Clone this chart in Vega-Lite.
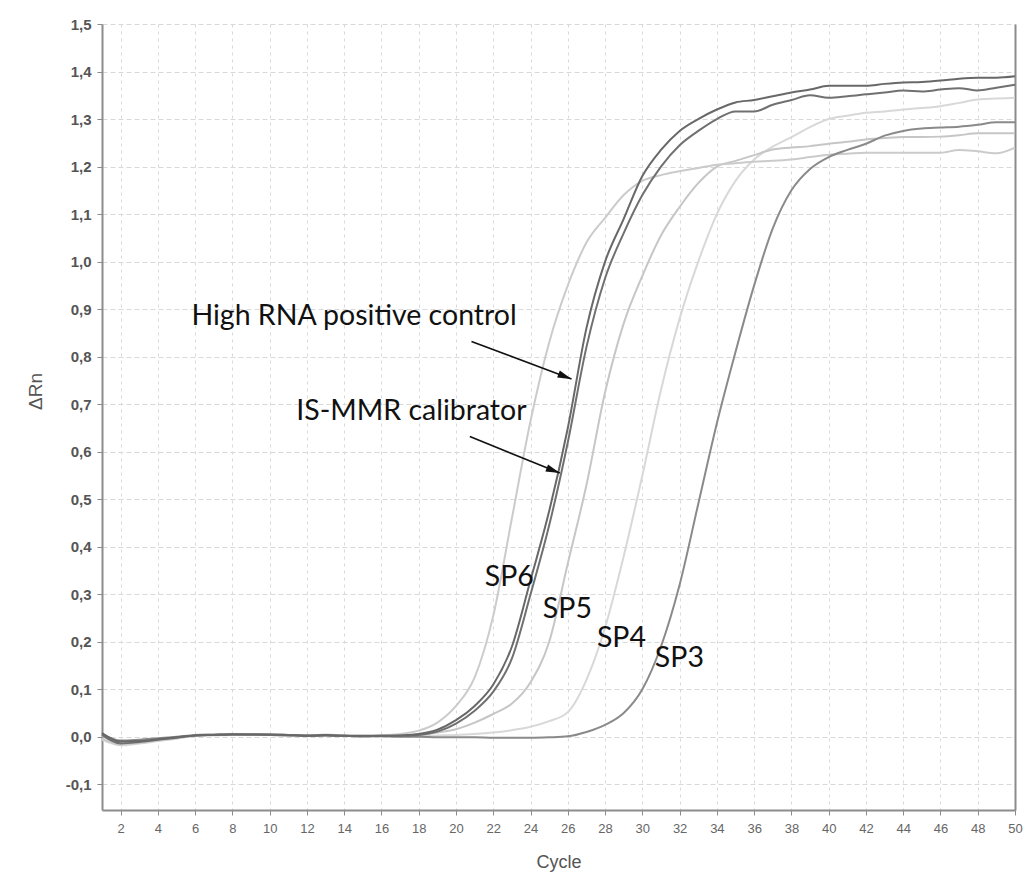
{
  "$schema": "https://vega.github.io/schema/vega-lite/v6.json",
  "width": 913,
  "height": 786,
  "autosize": {"type": "none"},
  "padding": {"left": 102, "top": 24, "right": 8, "bottom": 73},
  "background": "white",
  "config": {
    "view": {"stroke": null}, "font": "Liberation Sans",
    "axis": {"labelOverlap": false},
    "axisX": {
      "values": [2,4,6,8,10,12,14,16,18,20,22,24,26,28,30,32,34,36,38,40,42,44,46,48,50],
      "labelOverlap": false, "labelFlush": false,
      "titleFontSize": 18, "titleFontWeight": "normal", "titleColor": "#555555",
      "titleY": 52, "titleBaseline": "middle",
      "labelFontSize": 13, "labelColor": "#666666", "labelPadding": 7,
      "domainColor": "#8c8c8c", "domainWidth": 2, "tickColor": "#8c8c8c", "tickSize": 5,
      "grid": true, "gridColor": "#d9d9d9", "gridDash": [3, 4], "gridWidth": 1
    }
  },
  "datasets": {
    "curves": [
      {"cycle":1,"HRPC":0.008,"ISMMR":0.004,"SP6":-0.004,"SP5":0.002,"SP4":-0.006,"SP3":0.006},
      {"cycle":2,"HRPC":-0.010,"ISMMR":-0.014,"SP6":-0.016,"SP5":-0.012,"SP4":-0.018,"SP3":-0.008},
      {"cycle":3,"HRPC":-0.009,"ISMMR":-0.011,"SP6":-0.013,"SP5":-0.010,"SP4":-0.014,"SP3":-0.006},
      {"cycle":4,"HRPC":-0.005,"ISMMR":-0.006,"SP6":-0.008,"SP5":-0.006,"SP4":-0.009,"SP3":-0.003},
      {"cycle":5,"HRPC":-0.001,"ISMMR":-0.002,"SP6":-0.003,"SP5":-0.002,"SP4":-0.004,"SP3":0.000},
      {"cycle":6,"HRPC":0.003,"ISMMR":0.003,"SP6":0.002,"SP5":0.003,"SP4":0.002,"SP3":0.004},
      {"cycle":7,"HRPC":0.004,"ISMMR":0.004,"SP6":0.004,"SP5":0.004,"SP4":0.003,"SP3":0.005},
      {"cycle":8,"HRPC":0.005,"ISMMR":0.005,"SP6":0.005,"SP5":0.005,"SP4":0.004,"SP3":0.006},
      {"cycle":9,"HRPC":0.005,"ISMMR":0.005,"SP6":0.005,"SP5":0.005,"SP4":0.004,"SP3":0.005},
      {"cycle":10,"HRPC":0.005,"ISMMR":0.004,"SP6":0.005,"SP5":0.004,"SP4":0.004,"SP3":0.005},
      {"cycle":11,"HRPC":0.004,"ISMMR":0.003,"SP6":0.004,"SP5":0.004,"SP4":0.003,"SP3":0.004},
      {"cycle":12,"HRPC":0.002,"ISMMR":0.002,"SP6":0.003,"SP5":0.002,"SP4":0.002,"SP3":0.003},
      {"cycle":13,"HRPC":0.004,"ISMMR":0.003,"SP6":0.005,"SP5":0.003,"SP4":0.003,"SP3":0.004},
      {"cycle":14,"HRPC":0.002,"ISMMR":0.002,"SP6":0.003,"SP5":0.002,"SP4":0.002,"SP3":0.002},
      {"cycle":15,"HRPC":0.002,"ISMMR":0.001,"SP6":0.002,"SP5":0.001,"SP4":0.001,"SP3":0.001},
      {"cycle":16,"HRPC":0.002,"ISMMR":0.002,"SP6":0.003,"SP5":0.002,"SP4":0.001,"SP3":0.001},
      {"cycle":17,"HRPC":0.003,"ISMMR":0.002,"SP6":0.006,"SP5":0.003,"SP4":0.001,"SP3":0.000},
      {"cycle":18,"HRPC":0.006,"ISMMR":0.004,"SP6":0.013,"SP5":0.005,"SP4":0.002,"SP3":0.000},
      {"cycle":19,"HRPC":0.015,"ISMMR":0.011,"SP6":0.030,"SP5":0.009,"SP4":0.003,"SP3":-0.001},
      {"cycle":20,"HRPC":0.035,"ISMMR":0.028,"SP6":0.065,"SP5":0.016,"SP4":0.004,"SP3":-0.001},
      {"cycle":21,"HRPC":0.065,"ISMMR":0.055,"SP6":0.125,"SP5":0.030,"SP4":0.006,"SP3":-0.001},
      {"cycle":22,"HRPC":0.110,"ISMMR":0.095,"SP6":0.255,"SP5":0.048,"SP4":0.009,"SP3":-0.002},
      {"cycle":23,"HRPC":0.190,"ISMMR":0.165,"SP6":0.460,"SP5":0.070,"SP4":0.014,"SP3":-0.002},
      {"cycle":24,"HRPC":0.330,"ISMMR":0.300,"SP6":0.665,"SP5":0.115,"SP4":0.021,"SP3":-0.002},
      {"cycle":25,"HRPC":0.475,"ISMMR":0.445,"SP6":0.830,"SP5":0.200,"SP4":0.033,"SP3":-0.001},
      {"cycle":26,"HRPC":0.650,"ISMMR":0.620,"SP6":0.950,"SP5":0.365,"SP4":0.052,"SP3":0.001},
      {"cycle":27,"HRPC":0.860,"ISMMR":0.820,"SP6":1.040,"SP5":0.530,"SP4":0.120,"SP3":0.010},
      {"cycle":28,"HRPC":1.000,"ISMMR":0.965,"SP6":1.092,"SP5":0.725,"SP4":0.230,"SP3":0.025},
      {"cycle":29,"HRPC":1.090,"ISMMR":1.060,"SP6":1.140,"SP5":0.870,"SP4":0.380,"SP3":0.050},
      {"cycle":30,"HRPC":1.180,"ISMMR":1.140,"SP6":1.170,"SP5":0.970,"SP4":0.550,"SP3":0.100},
      {"cycle":31,"HRPC":1.235,"ISMMR":1.200,"SP6":1.182,"SP5":1.055,"SP4":0.730,"SP3":0.190},
      {"cycle":32,"HRPC":1.275,"ISMMR":1.245,"SP6":1.190,"SP5":1.115,"SP4":0.880,"SP3":0.320},
      {"cycle":33,"HRPC":1.300,"ISMMR":1.275,"SP6":1.197,"SP5":1.165,"SP4":1.000,"SP3":0.490},
      {"cycle":34,"HRPC":1.320,"ISMMR":1.300,"SP6":1.204,"SP5":1.200,"SP4":1.100,"SP3":0.660},
      {"cycle":35,"HRPC":1.335,"ISMMR":1.316,"SP6":1.207,"SP5":1.212,"SP4":1.170,"SP3":0.810},
      {"cycle":36,"HRPC":1.340,"ISMMR":1.316,"SP6":1.210,"SP5":1.224,"SP4":1.215,"SP3":0.950},
      {"cycle":37,"HRPC":1.348,"ISMMR":1.330,"SP6":1.212,"SP5":1.236,"SP4":1.242,"SP3":1.070},
      {"cycle":38,"HRPC":1.356,"ISMMR":1.340,"SP6":1.215,"SP5":1.240,"SP4":1.262,"SP3":1.150},
      {"cycle":39,"HRPC":1.362,"ISMMR":1.350,"SP6":1.220,"SP5":1.243,"SP4":1.283,"SP3":1.195},
      {"cycle":40,"HRPC":1.370,"ISMMR":1.345,"SP6":1.225,"SP5":1.248,"SP4":1.300,"SP3":1.220},
      {"cycle":41,"HRPC":1.370,"ISMMR":1.348,"SP6":1.227,"SP5":1.252,"SP4":1.307,"SP3":1.235},
      {"cycle":42,"HRPC":1.370,"ISMMR":1.352,"SP6":1.229,"SP5":1.257,"SP4":1.313,"SP3":1.248},
      {"cycle":43,"HRPC":1.374,"ISMMR":1.356,"SP6":1.229,"SP5":1.260,"SP4":1.316,"SP3":1.265},
      {"cycle":44,"HRPC":1.377,"ISMMR":1.360,"SP6":1.229,"SP5":1.262,"SP4":1.320,"SP3":1.275},
      {"cycle":45,"HRPC":1.378,"ISMMR":1.358,"SP6":1.229,"SP5":1.262,"SP4":1.323,"SP3":1.280},
      {"cycle":46,"HRPC":1.381,"ISMMR":1.362,"SP6":1.229,"SP5":1.263,"SP4":1.327,"SP3":1.282},
      {"cycle":47,"HRPC":1.385,"ISMMR":1.365,"SP6":1.235,"SP5":1.266,"SP4":1.334,"SP3":1.284},
      {"cycle":48,"HRPC":1.387,"ISMMR":1.360,"SP6":1.232,"SP5":1.270,"SP4":1.341,"SP3":1.288},
      {"cycle":49,"HRPC":1.387,"ISMMR":1.366,"SP6":1.228,"SP5":1.270,"SP4":1.343,"SP3":1.293},
      {"cycle":50,"HRPC":1.390,"ISMMR":1.372,"SP6":1.240,"SP5":1.270,"SP4":1.345,"SP3":1.293}
    ],
    "labels": [
      {"x": 5.8, "y": 0.885, "text": "High RNA positive control"},
      {"x": 11.43, "y": 0.685, "text": "IS-MMR calibrator"},
      {"x": 21.54, "y": 0.336, "text": "SP6"},
      {"x": 24.66, "y": 0.27, "text": "SP5"},
      {"x": 27.56, "y": 0.207, "text": "SP4"},
      {"x": 30.67, "y": 0.166, "text": "SP3"}
    ],
    "arrows": [
      {"x": 20.83, "y": 0.832, "x2": 26.2, "y2": 0.753},
      {"x": 20.74, "y": 0.632, "x2": 25.57, "y2": 0.555}
    ]
  },
  "layer": [
    {
      "data": {"name": "curves"},
      "transform": [{"fold": ["SP4", "SP5", "SP6", "SP3", "ISMMR", "HRPC"], "as": ["series", "value"]}],
      "mark": {"type": "line", "strokeWidth": 2, "interpolate": "monotone"},
      "encoding": {
        "x": {
          "field": "cycle", "type": "quantitative",
          "scale": {"domain": [1, 50], "nice": false, "zero": false},
          "axis": {"title": "Cycle", "labelOverlap": false, "values": [2,4,6,8,10,12,14,16,18,20,22,24,26,28,30,32,34,36,38,40,42,44,46,48,50]}
        },
        "y": {
          "field": "value", "type": "quantitative",
          "scale": {"domain": [-0.154, 1.5], "nice": false, "zero": false},
          "axis": {
            "values": [-0.1,0,0.1,0.2,0.3,0.4,0.5,0.6,0.7,0.8,0.9,1.0,1.1,1.2,1.3,1.4,1.5],
            "labelOverlap": false,
            "labelExpr": "replace(replace(format(datum.value, '.1f'), '.', ','), '\u2212', '-')",
            "title": "ΔRn", "titleFontSize": 19, "titleFontWeight": "normal", "titleColor": "#555555",
            "titleX": -67, "titleY": 367, "titleAngle": 270, "titleAlign": "center", "titleBaseline": "middle",
            "labelFontSize": 15, "labelFontWeight": "bold", "labelColor": "#555555", "labelPadding": 6,
            "domainColor": "#8c8c8c", "domainWidth": 2, "tickColor": "#8c8c8c", "tickSize": 5,
            "grid": true, "gridColor": "#d9d9d9", "gridDash": [5, 3], "gridWidth": 1
          }
        },
        "color": {
          "field": "series", "type": "nominal",
          "scale": {
            "domain": ["SP4", "SP5", "SP6", "SP3", "ISMMR", "HRPC"],
            "range": ["#d8d8d8", "#c6c6c6", "#cbcbcb", "#8a8a8a", "#707070", "#686868"]
          },
          "legend": null
        }
      }
    },
    {
      "data": {"name": "arrows"},
      "mark": {"type": "rule", "color": "#111111", "strokeWidth": 1.6},
      "encoding": {
        "x": {"field": "x", "type": "quantitative", "scale": {"domain": [1, 50], "nice": false, "zero": false}, "axis": {"title": "Cycle", "labelOverlap": false, "values": [2,4,6,8,10,12,14,16,18,20,22,24,26,28,30,32,34,36,38,40,42,44,46,48,50]}},
        "y": {"field": "y", "type": "quantitative", "scale": {"domain": [-0.154, 1.5], "nice": false, "zero": false}, "axis": null},
        "x2": {"field": "x2"},
        "y2": {"field": "y2"}
      }
    },
    {
      "data": {"name": "arrows"},
      "mark": {"type": "point", "shape": "M0,0L-1,-0.27L-1,0.27Z", "filled": true, "color": "#111111", "opacity": 1, "size": 784, "angle": 21},
      "encoding": {
        "x": {"field": "x2", "type": "quantitative", "scale": {"domain": [1, 50], "nice": false, "zero": false}, "axis": {"title": "Cycle", "labelOverlap": false, "values": [2,4,6,8,10,12,14,16,18,20,22,24,26,28,30,32,34,36,38,40,42,44,46,48,50]}},
        "y": {"field": "y2", "type": "quantitative", "scale": {"domain": [-0.154, 1.5], "nice": false, "zero": false}, "axis": null}
      }
    },
    {
      "data": {"name": "labels"},
      "mark": {"type": "text", "font": "Lato", "fontSize": 28.5, "color": "#111111", "align": "left", "baseline": "middle"},
      "encoding": {
        "x": {"field": "x", "type": "quantitative", "scale": {"domain": [1, 50], "nice": false, "zero": false}, "axis": {"title": "Cycle", "labelOverlap": false, "values": [2,4,6,8,10,12,14,16,18,20,22,24,26,28,30,32,34,36,38,40,42,44,46,48,50]}},
        "y": {
          "field": "y", "type": "quantitative",
          "scale": {"domain": [-0.154, 1.5], "nice": false, "zero": false},
          "axis": {"orient": "right", "labels": false, "ticks": false, "grid": false, "title": null, "domainColor": "#8c8c8c", "domainWidth": 2}
        },
        "text": {"field": "text"}
      }
    }
  ],
  "resolve": {"axis": {"y": "independent"}}
}
